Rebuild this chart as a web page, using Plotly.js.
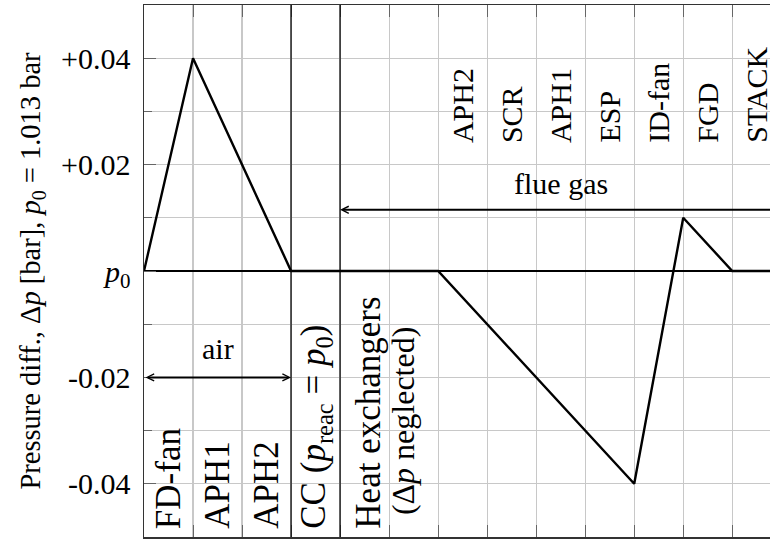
<!DOCTYPE html>
<html>
<head>
<meta charset="utf-8">
<script src="https://cdn.plot.ly/plotly-3.0.1.min.js"></script>
<style>
html, body { margin: 0; padding: 0; background: #ffffff; }
#chart { width: 770px; height: 539px; }
</style>
</head>
<body>
<div id="chart"></div>
<script>
// ---- data ----
const stageX = [0, 1, 3, 6, 10, 11, 12, 13];
const pressureDiff = [0, 0.04, 0, 0, -0.04, 0.01, 0, 0];

const xGridVals = [0, 1, 2, 3, 4, 5, 6, 7, 8, 9, 10, 11, 12];
const yTickVals = [-0.04, -0.02, 0, 0.02, 0.04];
const yTickText = ['-0.04', '-0.02', '<i>p</i><sub>0</sub>', '+0.02', '+0.04'];
const yMinorVals = [-0.03, -0.01, 0.01, 0.03];

const separatorX = [3, 4];

const lowerLabels = ['FD-fan', 'APH1', 'APH2',
  'CC (<i>p</i><sub>reac</sub> = <i>p</i><sub>0</sub>)',
  'Heat exchangers', '(Δ<i>p</i> neglected)'];
const lowerLabelX = [0.5, 1.5, 2.5, 3.5, 4.58, 5.27];
const lowerLabelY = [-0.0489, -0.0489, -0.0489, -0.0489, -0.0489, -0.0462];
const lowerLabelSize = [35, 35, 35, 35, 35, 32];

const upperLabels = ['APH2', 'SCR', 'APH1', 'ESP', 'ID-fan', 'FGD', 'STACK'];
const upperLabelX = [6.5, 7.5, 8.5, 9.5, 10.5, 11.5, 12.5];
const upperLabelY = 0.0237;

const airArrow = { from: 0, to: 3, y: -0.02, textX: 1.5, textY: -0.0145, text: 'air' };
const flueArrow = { from: 13, to: 4, y: 0.0115, textX: 8.5, textY: 0.0165, text: 'flue gas' };

// ---- build ----
const FONT = 'Liberation Serif';
const FS = 30;

const annotations = [];
lowerLabels.forEach((t, i) => annotations.push({
  x: lowerLabelX[i], y: lowerLabelY[i], xref: 'x', yref: 'y', text: t,
  showarrow: false, textangle: -90, xanchor: 'center', yanchor: 'bottom',
  font: { family: FONT, size: lowerLabelSize[i], color: '#000' }
}));
upperLabels.forEach((t, i) => annotations.push({
  x: upperLabelX[i], y: upperLabelY, xref: 'x', yref: 'y', text: t,
  showarrow: false, textangle: -90, xanchor: 'center', yanchor: 'bottom',
  font: { family: FONT, size: FS, color: '#000' }
}));
// arrows
annotations.push({
  x: airArrow.to, y: airArrow.y, ax: airArrow.from, ay: airArrow.y,
  xref: 'x', yref: 'y', axref: 'x', ayref: 'y', text: '',
  showarrow: true, arrowhead: 5, startarrowhead: 5, arrowside: 'end+start',
  arrowwidth: 2, arrowsize: 0.7, startarrowsize: 0.7, arrowcolor: '#000',
  standoff: 0, startstandoff: 0
});
annotations.push({
  x: flueArrow.to, y: flueArrow.y, ax: flueArrow.from, ay: flueArrow.y,
  xref: 'x', yref: 'y', axref: 'x', ayref: 'y', text: '',
  showarrow: true, arrowhead: 5, arrowside: 'end',
  arrowwidth: 2, arrowsize: 0.7, arrowcolor: '#000',
  standoff: 0, startstandoff: 0
});
[airArrow, flueArrow].forEach(a => annotations.push({
  x: a.textX, y: a.textY, xref: 'x', yref: 'y', text: a.text, showarrow: false,
  xanchor: 'center', yanchor: 'middle',
  font: { family: FONT, size: FS, color: '#000' }
}));

const shapes = separatorX.map(v => ({
  type: 'line', xref: 'x', yref: 'paper', x0: v, x1: v, y0: 0, y1: 1,
  line: { color: '#000', width: 1.2 }, layer: 'above'
}));

const trace = {
  x: stageX, y: pressureDiff, type: 'scatter', mode: 'lines',
  line: { color: '#000', width: 2.4 }, hoverinfo: 'skip', cliponaxis: true
};

const layout = {
  width: 770, height: 539,
  margin: { l: 144, r: 0, t: 5, b: 2 },
  paper_bgcolor: '#ffffff', plot_bgcolor: '#ffffff',
  font: { family: FONT, size: FS, color: '#000' },
  showlegend: false,
  xaxis: {
    range: [0, 12.77], tickmode: 'array', tickvals: xGridVals, showticklabels: false,
    ticks: 'inside', ticklen: 12, tickwidth: 1, tickcolor: '#666',
    showgrid: true, gridcolor: '#c8c8c8', gridwidth: 1.2,
    showline: true, linecolor: '#333', linewidth: 1.5, mirror: 'allticks',
    zeroline: false, fixedrange: true
  },
  yaxis: {
    range: [-0.05, 0.05], tickmode: 'array', tickvals: yTickVals, ticktext: yTickText,
    ticks: 'inside', ticklen: 12, tickwidth: 1, tickcolor: '#666',
    tickfont: { family: FONT, size: FS, color: '#000' }, ticklabelstandoff: 6,
    showgrid: true, gridcolor: '#c8c8c8', gridwidth: 1.2,
    minor: { tickvals: yMinorVals, ticks: 'inside', ticklen: 8, tickwidth: 1, tickcolor: '#666',
             showgrid: true, gridcolor: '#c8c8c8', gridwidth: 1.2 },
    showline: true, linecolor: '#333', linewidth: 1.5, mirror: false,
    zeroline: true, zerolinecolor: '#000', zerolinewidth: 1.2,
    fixedrange: true,
    title: { text: 'Pressure diff., Δ<i>p</i> [bar], <i>p</i><sub>0</sub> = 1.013 bar',
             font: { family: FONT, size: 28.5, color: '#000' }, standoff: 12 }
  },
  annotations: annotations,
  shapes: shapes
};

Plotly.newPlot('chart', [trace], layout, { staticPlot: true, displayModeBar: false });
</script>
</body>
</html>
